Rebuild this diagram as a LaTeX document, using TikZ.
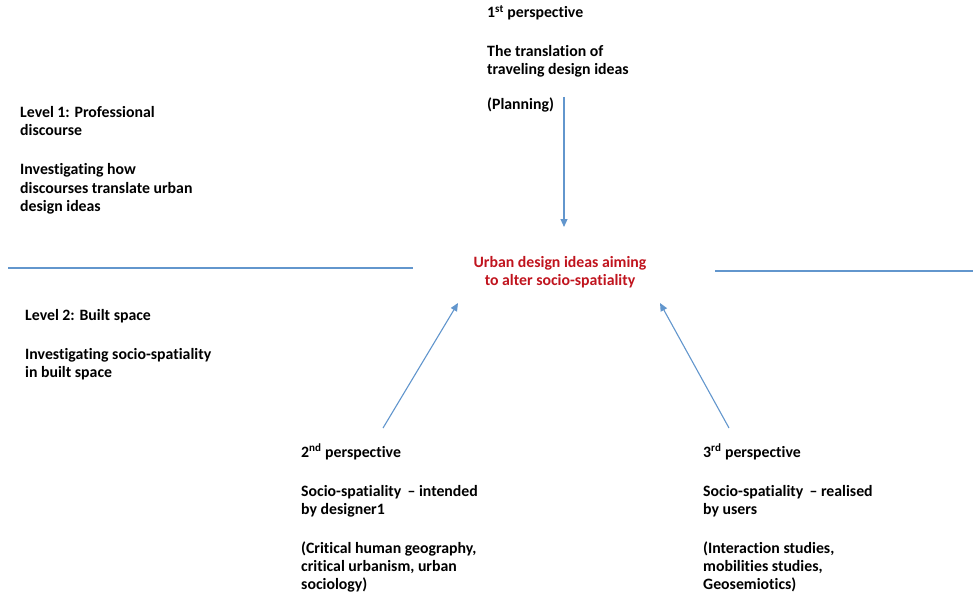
\documentclass[tikz,border=0pt]{standalone}
\usepackage{fontspec}
\setmainfont{Carlito}[Ligatures={NoCommon}]
\usetikzlibrary{positioning,arrows.meta}
\definecolor{lineblue}{RGB}{98,150,205}
\definecolor{ideared}{RGB}{192,20,30}

\begin{document}
\begin{tikzpicture}[
    x=1pt, y=-1pt,
    txt/.style={
        anchor=base west,
        align=left,
        inner sep=0pt,
        font=\bfseries\fontsize{15.8}{18}\selectfont
    },
    idea/.style={
        anchor=base,
        align=center,
        inner sep=0pt,
        text=ideared,
        font=\bfseries\fontsize{15.8}{18}\selectfont
    },
    arrow/.style={draw=lineblue, line width=1.1pt, -{Triangle[length=8pt,width=7pt]}},
    divider/.style={draw=lineblue, line width=1.1pt}
]
\useasboundingbox (0,0) rectangle (973,596);

% levels (placed by their last line)
\node[txt] (level1) at (20,211) {Level 1: Professional\\discourse\\[21pt]
    Investigating how\\discourses translate urban\\design ideas};
\node[txt] (level2) at (25,377) {Level 2: Built space\\[21pt]
    Investigating socio-spatiality\\in built space};

% centre
\node[idea] (idea) at (560,285) {Urban design ideas aiming\\to alter socio-spatiality};

% perspectives
\node[txt] (persp1) at (487,110) {1\textsuperscript{st} perspective\\[21pt]
    The translation of\\traveling design ideas\\[17pt](Planning)};
\node[txt] (persp2) at (301,589) {2\textsuperscript{nd} perspective\\[21pt]
    Socio-spatiality \,-- intended\\by designer1\\[21pt]
    (Critical human geography,\\critical urbanism, urban\\sociology)};
\node[txt] (persp3) at (703,589) {3\textsuperscript{rd} perspective\\[21pt]
    Socio-spatiality \,-- realised\\by users\\[21pt]
    (Interaction studies,\\mobilities studies,\\Geosemiotics)};

% arrow ends
\coordinate (from1) at (564,97);
\coordinate (to1) at (564,227);
\coordinate (from2) at (383,428);
\coordinate (to2) at (458,303);
\coordinate (from3) at (729,428);
\coordinate (to3) at (660,303);
\coordinate (lineLa) at (8,268);
\coordinate (lineLb) at (413,268);
\coordinate (lineRa) at (715,271);
\coordinate (lineRb) at (973,271);

\draw[arrow] (from1) -- (to1);
\draw[arrow] (from2) -- (to2);
\draw[arrow] (from3) -- (to3);

\draw[divider] (lineLa) -- (lineLb);
\draw[divider] (lineRa) -- (lineRb);

\end{tikzpicture}
\end{document}
